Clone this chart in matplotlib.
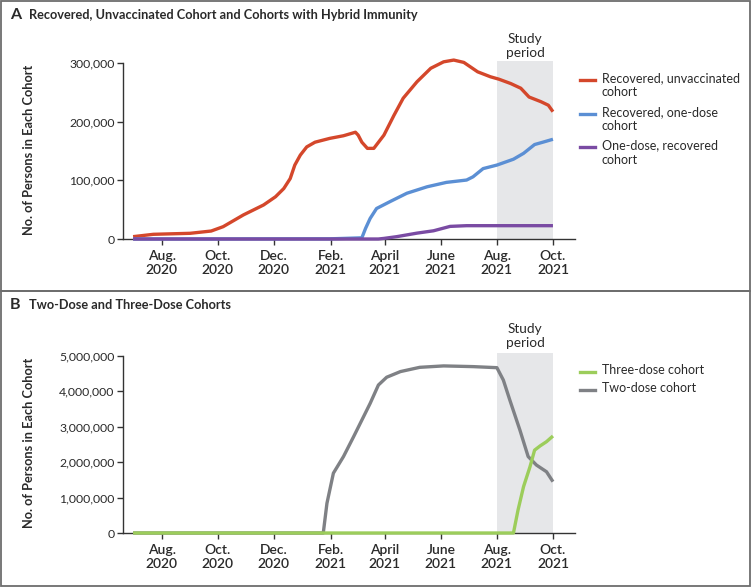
import matplotlib
matplotlib.use("Agg")
import matplotlib.pyplot as plt
from matplotlib.lines import Line2D
from matplotlib.patches import Rectangle
import pandas as pd

plt.rcParams['font.family'] = ['Lato', 'DejaVu Sans']

# ---------------- data ----------------
unvacc_dates = ["2020-07-01", "2020-07-23", "2020-09-01", "2020-09-24", "2020-10-07", "2020-10-29",
                "2020-11-20", "2020-12-03", "2020-12-12", "2020-12-19", "2020-12-24", "2020-12-30",
                "2021-01-06", "2021-01-15", "2021-01-31", "2021-02-15", "2021-02-28", "2021-03-03",
                "2021-03-07", "2021-03-13", "2021-03-20", "2021-03-31", "2021-04-11", "2021-04-21",
                "2021-05-06", "2021-05-21", "2021-06-04", "2021-06-15", "2021-06-26", "2021-07-11",
                "2021-07-25", "2021-08-03", "2021-08-16", "2021-08-27", "2021-09-05", "2021-09-18",
                "2021-09-26", "2021-10-01"]
unvacc_vals = [4000, 8000, 9700, 13600, 21000, 41000,
               58000, 72000, 86000, 103000, 126000, 143000,
               157000, 165000, 171500, 176000, 182000, 177000,
               165000, 154500, 154500, 177000, 211000, 240000,
               268000, 291000, 302000, 305000, 301000, 285000,
               276500, 272500, 265000, 257000, 242000, 234000,
               228000, 217000]

onedose_dates = ["2020-07-01", "2021-01-31", "2021-02-15", "2021-03-07", "2021-03-11", "2021-03-16",
                 "2021-03-23", "2021-04-07", "2021-04-25", "2021-05-17", "2021-06-07", "2021-06-29",
                 "2021-07-06", "2021-07-17", "2021-08-01", "2021-08-19", "2021-08-30", "2021-09-11",
                 "2021-09-20", "2021-10-01"]
onedose_vals = [0, 300, 1000, 2000, 18000, 35000,
                52000, 64000, 78000, 89000, 96500, 100500,
                106000, 120000, 126000, 136000, 146000, 161000,
                165000, 170000]

dose_rec_dates = ["2020-07-01", "2021-03-25", "2021-03-31", "2021-04-14", "2021-05-06", "2021-05-24",
                  "2021-06-11", "2021-06-29", "2021-10-01"]
dose_rec_vals = [0, 0, 1000, 4000, 10000, 14000, 21500, 22700, 22700]

two_dates = ["2020-07-01", "2021-01-24", "2021-01-28", "2021-02-04", "2021-02-15", "2021-02-26",
             "2021-03-07", "2021-03-16", "2021-03-25", "2021-04-03", "2021-04-18", "2021-05-09",
             "2021-06-04", "2021-07-06", "2021-08-01", "2021-08-08", "2021-08-15", "2021-08-26",
             "2021-09-04", "2021-09-13", "2021-09-24", "2021-10-01"]
two_vals = [0, 0, 840000, 1690000, 2160000, 2720000,
            3190000, 3660000, 4180000, 4400000, 4560000, 4680000,
            4720000, 4700000, 4670000, 4320000, 3760000, 2910000,
            2160000, 1920000, 1730000, 1450000]

three_dates = ["2020-07-01", "2021-08-19", "2021-08-24", "2021-08-30", "2021-09-06", "2021-09-11",
               "2021-09-17", "2021-09-24", "2021-10-01"]
three_vals = [0, 0, 650000, 1310000, 1870000, 2340000, 2460000, 2580000, 2740000]

tick_dates = ["2020-08-01", "2020-10-01", "2020-12-01", "2021-02-01", "2021-04-01",
              "2021-06-01", "2021-08-01", "2021-10-01"]
tick_labels = ["Aug.\n2020", "Oct.\n2020", "Dec.\n2020", "Feb.\n2021", "April\n2021",
               "June\n2021", "Aug.\n2021", "Oct.\n2021"]
study_start, study_end = "2021-08-01", "2021-10-01"

a_ticks = [0, 100000, 200000, 300000]
b_ticks = [0, 1000000, 2000000, 3000000, 4000000, 5000000]

a_series = [("Recovered, unvaccinated\ncohort", unvacc_dates, unvacc_vals, "#d4472b"),
            ("Recovered, one-dose\ncohort", onedose_dates, onedose_vals, "#5b8fd4"),
            ("One-dose, recovered\ncohort", dose_rec_dates, dose_rec_vals, "#7a4ba3")]
b_series = [("Three-dose cohort", three_dates, three_vals, "#9ccd5b"),
            ("Two-dose cohort", two_dates, two_vals, "#7f8185")]

# ---------------- figure ----------------
W, H = 751, 587
fig = plt.figure(figsize=(W / 100, H / 100), dpi=100)

def fx(px):
    return px / W

def fy(py):
    return 1 - py / H

xmin = pd.Timestamp("2020-06-20")
xmax = pd.Timestamp("2021-10-25")
TXT = "#2a2a2a"

def setup_axes(ax, ticks, top_val, ymax):
    ax.set_xlim(xmin, xmax)
    ax.set_ylim(0, ymax)
    for s in ["top", "right"]:
        ax.spines[s].set_visible(False)
    for s in ["left", "bottom"]:
        ax.spines[s].set_color("#333333")
        ax.spines[s].set_linewidth(1.0)
    ax.spines["left"].set_bounds(0, top_val)
    ax.set_yticks(ticks)
    ax.set_yticklabels([f"{t:,}" for t in ticks], fontsize=8.8)
    ax.set_xticks([pd.Timestamp(d) for d in tick_dates])
    ax.set_xticklabels(tick_labels, fontweight="semibold", fontsize=10)
    ax.tick_params(axis="both", direction="out", length=4, width=1, color="#333333",
                   labelcolor=TXT, pad=2)
    ax.tick_params(axis="x", pad=4)
    ax.axvspan(pd.Timestamp(study_start), pd.Timestamp(study_end), color="#e6e7e9", zorder=0, lw=0)
    ax.set_ylabel("No. of Persons in Each Cohort", fontsize=9.2, fontweight="bold", color=TXT)
    ax.yaxis.set_label_coords(-(123 - 35) / (575 - 123), 0.5)
    ax.patch.set_visible(False)

# Panel A
axA = fig.add_axes([fx(123), fy(239), fx(575) - fx(123), fy(61) - fy(239)])
setup_axes(axA, a_ticks, 300000, 300000 * (239 - 61) / (239 - 63))
for name, d, v, c in a_series:
    axA.plot(pd.to_datetime(d), v, color=c, lw=2.4, clip_on=False, zorder=3,
             solid_capstyle="butt")

# Panel B
axB = fig.add_axes([fx(123), fy(533), fx(575) - fx(123), fy(353) - fy(533)])
setup_axes(axB, b_ticks, 5000000, 5000000 * (533 - 353) / (533 - 356))
for name, d, v, c in b_series[::-1]:
    axB.plot(pd.to_datetime(d), v, color=c, lw=2.4, clip_on=False, zorder=3,
             solid_capstyle="butt")

# Study period labels
for yy in [(39, 53), (329, 343)]:
    fig.text(fx(525), fy(yy[0]), "Study", ha="center", va="center", fontsize=9.8, color=TXT)
    fig.text(fx(525), fy(yy[1]), "period", ha="center", va="center", fontsize=9.8, color=TXT)

# Legends (manual)
def draw_legend(series, first_y, step):
    for i, (name, d, v, c) in enumerate(series):
        y = first_y + i * step
        fig.add_artist(Line2D([fx(580), fx(595)], [fy(y), fy(y)], color=c, lw=2.4,
                              transform=fig.transFigure))
        fig.text(fx(602), fy(y - 7.5), name, ha="left", va="top", fontsize=9.0,
                 color=TXT, linespacing=1.2)

draw_legend(a_series, 80, 33.5)
draw_legend(b_series, 372, 18)

# Titles
fig.text(fx(10), fy(15), "A", ha="left", va="center", fontsize=11.5, fontweight="bold", color=TXT)
fig.text(fx(29), fy(15), "Recovered, Unvaccinated Cohort and Cohorts with Hybrid Immunity",
         ha="left", va="center", fontsize=9.2, fontweight="bold", color=TXT)
fig.text(fx(10), fy(305), "B", ha="left", va="center", fontsize=11.5, fontweight="bold", color=TXT)
fig.text(fx(29), fy(305), "Two-Dose and Three-Dose Cohorts",
         ha="left", va="center", fontsize=9.2, fontweight="bold", color=TXT)

# Panel borders
for (x0, y0, x1, y1) in [(1, 1, 749.5, 291), (1, 291, 749.5, 585.5)]:
    fig.add_artist(Rectangle((fx(x0), fy(y1)), fx(x1) - fx(x0), fy(y0) - fy(y1),
                             transform=fig.transFigure, fill=False, ec="#6d6d6d", lw=1.3))

fig.savefig("out.png", dpi=100)
